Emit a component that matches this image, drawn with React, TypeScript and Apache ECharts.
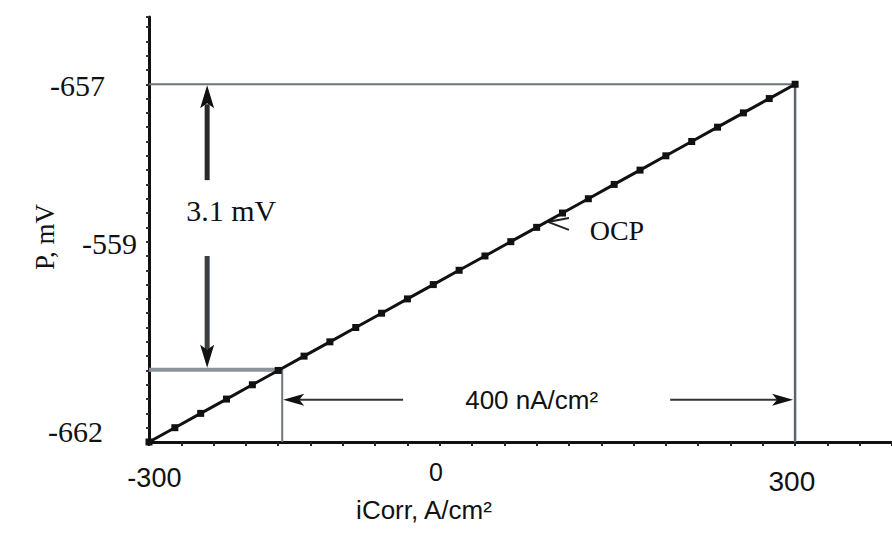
import React, { useEffect, useRef } from 'react';
import * as echarts from 'echarts';

// ---- data ----
const iCorrValues = [-300, -276, -252, -228, -204, -180, -156, -132, -108, -84, -60, -36, -12, 12, 36, 60, 84, 108, 132, 156, 180, 204, 228, 252, 276, 300];
const potentialValues = [-662.0, -661.8, -661.6, -661.4, -661.2, -661.0, -660.8, -660.6, -660.4, -660.2, -660.0, -659.8, -659.6, -659.4, -659.2, -659.0, -658.8, -658.6, -658.4, -658.2, -658.0, -657.8, -657.6, -657.4, -657.2, -657.0];

const yTickLabels = ['-657', '-559', '-662'];
const yTickAt = [-657.02, -659.22, -661.86];
const xTickLabels = ['-300', '0', '300'];
const xTickAt = [-295, -33.5, 297];

// annotation anchors (data units)
const bigBoxTop = -657;
const bigBoxRight = 300;
const smallBoxTop = -660.99;
const smallBoxRight = -176.3;
const vArrowX = -246;
const vArrowUpperEnd = -658.34;
const vArrowLowerStart = -659.4;
const hArrowY = -661.41;
const hArrowLeftEnd = -64;
const hArrowRightStart = 184;
const ocpAt = [70.5, -658.91];

// ---- style / layout (not data) ----
const yLabelRight = [105, 137, 103];
const xLabelSizes = [27, 25, 28];
const SERIF = '"Liberation Serif", "Times New Roman", serif';
const SANS = '"Liberation Sans", Arial, sans-serif';

export default function App() {
  const ref = useRef<HTMLDivElement>(null);
  useEffect(() => {
    const chart = echarts.init(ref.current!, null, { renderer: 'svg', width: 892, height: 534 });
    chart.setOption({
      animation: false,
      backgroundColor: '#ffffff',
      grid: { left: 149, right: 0, top: 17, bottom: 92 },
      xAxis: {
        type: 'value', min: -300, max: 390, interval: 30,
        axisLine: { onZero: false, lineStyle: { color: '#111', width: 3 } },
        axisTick: { show: true, length: 4, lineStyle: { color: '#222', width: 2 } },
        axisLabel: { show: false },
        splitLine: { show: false },
      },
      yAxis: {
        type: 'value', min: -662, max: -656.06, interval: 0.2,
        axisLine: { show: true, onZero: false, lineStyle: { color: '#111', width: 3 } },
        axisTick: { show: true, length: 3, lineStyle: { color: '#333', width: 2 } },
        axisLabel: { show: false },
        splitLine: { show: false },
      },
      series: [{
        type: 'line',
        data: iCorrValues.map((x, i) => [x, potentialValues[i]]),
        symbol: 'rect', symbolSize: 7, showSymbol: true,
        lineStyle: { color: '#111', width: 3 },
        itemStyle: { color: '#111' },
        z: 5,
      }],
    });

    const p = (x: number, y: number) => chart.convertToPixel({ gridIndex: 0 }, [x, y]) as number[];
    const els: any[] = [];
    const line = (a: number[], b: number[], stroke: string, lw: number) =>
      els.push({ type: 'line', shape: { x1: a[0], y1: a[1], x2: b[0], y2: b[1] }, style: { stroke, lineWidth: lw }, z: 1 });

    // big box
    line(p(-300, bigBoxTop), p(bigBoxRight, bigBoxTop), '#6c7476', 2);
    line(p(bigBoxRight, bigBoxTop), p(bigBoxRight, -662), '#5a6570', 2.5);
    // small box
    line(p(-300, smallBoxTop), p(smallBoxRight, smallBoxTop), '#8a9499', 4);
    line(p(smallBoxRight, smallBoxTop), p(smallBoxRight, -662), '#6f787e', 2);

    // vertical double arrow
    const vt = p(vArrowX, bigBoxTop);
    const vu = p(vArrowX, vArrowUpperEnd);
    const vl = p(vArrowX, vArrowLowerStart);
    const vb = p(vArrowX, smallBoxTop);
    line([vt[0], vt[1] + 20], vu, '#2a2a2a', 5);
    els.push({ type: 'polygon', shape: { points: [[vt[0], vt[1] + 1], [vt[0] - 7, vt[1] + 24], [vt[0], vt[1] + 19], [vt[0] + 7, vt[1] + 24]] }, style: { fill: '#111' }, z: 2 });
    line(vl, [vb[0], vb[1] - 20], '#3a3f44', 5);
    els.push({ type: 'polygon', shape: { points: [[vb[0], vb[1] - 2], [vb[0] - 7, vb[1] - 25], [vb[0], vb[1] - 20], [vb[0] + 7, vb[1] - 25]] }, style: { fill: '#111' }, z: 2 });

    // horizontal arrows
    const hl = p(smallBoxRight, hArrowY);
    const hle = p(hArrowLeftEnd, hArrowY);
    const hrs = p(hArrowRightStart, hArrowY);
    const hr = p(bigBoxRight, hArrowY);
    line([hl[0] + 16, hl[1]], hle, '#333', 2);
    els.push({ type: 'polygon', shape: { points: [[hl[0] + 1, hl[1]], [hl[0] + 22, hl[1] - 6], [hl[0] + 17, hl[1]], [hl[0] + 22, hl[1] + 6]] }, style: { fill: '#111' }, z: 2 });
    line(hrs, [hr[0] - 16, hr[1]], '#333', 2);
    els.push({ type: 'polygon', shape: { points: [[hr[0] - 2, hr[1]], [hr[0] - 23, hr[1] - 6], [hr[0] - 18, hr[1]], [hr[0] - 23, hr[1] + 6]] }, style: { fill: '#111' }, z: 2 });

    // OCP pointer
    const o = p(ocpAt[0], ocpAt[1]);
    els.push({ type: 'polyline', shape: { points: [[o[0] + 21, o[1] - 3], [o[0], o[1] + 1], [o[0] + 21, o[1] + 9]] }, style: { stroke: '#222', lineWidth: 2, fill: 'none' }, z: 2 });

    const text = (t: string, x: number, y: number, font: string, align = 'center', extra: any = {}) =>
      els.push({ type: 'text', x, y, ...extra, style: { text: t, fill: '#111', font, align, verticalAlign: 'middle' }, z: 3 });

    yTickLabels.forEach((t, i) => {
      const q = p(-300, yTickAt[i]);
      text(t, yLabelRight[i], q[1], `30px ${SERIF}`, 'right');
    });
    xTickLabels.forEach((t, i) => {
      const q = p(xTickAt[i], -662);
      text(t, q[0], q[1] + 36 + (i === 1 ? -6 : 0) + (i === 2 ? 3 : 0), `${xLabelSizes[i]}px ${SANS}`);
    });

    const t31 = p(vArrowX, (vArrowUpperEnd + vArrowLowerStart) / 2);
    text('3.1 mV', t31[0] + 24, t31[1] - 8, `30px ${SERIF}`);
    text('OCP', o[0] + 69, o[1] + 10, `28px ${SERIF}`);
    const t400 = p((hArrowLeftEnd + hArrowRightStart) / 2, hArrowY);
    text('400 nA/cm²', t400[0] - 5, t400[1], `26px ${SANS}`);
    text('iCorr, A/cm²', 424, 510, `26px ${SANS}`);
    text('P, mV', 45, 237, `27px ${SERIF}`, 'center', { rotation: Math.PI / 2 });

    chart.setOption({ graphic: { elements: els } });
    return () => chart.dispose();
  }, []);
  return <div ref={ref} style={{ position: 'fixed', left: 0, top: 0, width: 892, height: 534, background: '#fff' }} />;
}
